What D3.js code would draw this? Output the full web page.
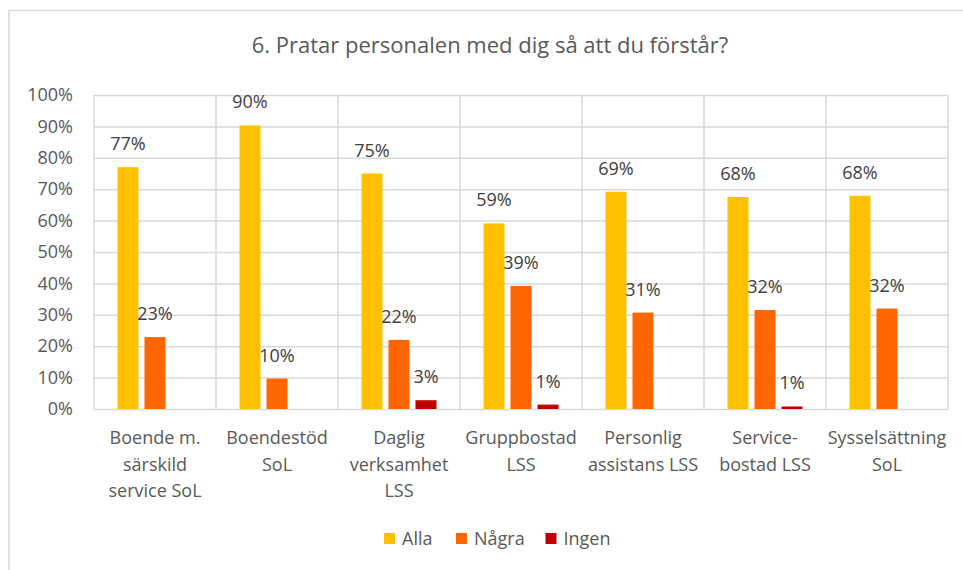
<!DOCTYPE html>
<html>
<head>
<meta charset="utf-8">
<script src="https://cdn.jsdelivr.net/npm/d3@7"></script>
<style>
  body { margin: 0; background: #fff; }
  svg { display: block; font-family: "Open Sans", sans-serif; }
</style>
</head>
<body>
<svg></svg>
<script>
// Data
const categories = [
    ["Boende m.", "särskild", "service SoL"],
    ["Boendestöd", "SoL"],
    ["Daglig", "verksamhet", "LSS"],
    ["Gruppbostad", "LSS"],
    ["Personlig", "assistans LSS"],
    ["Service-", "bostad LSS"],
    ["Sysselsättning", "SoL"]
];
const seriesNames = ["Alla", "Några", "Ingen"];
const alla  = [0.77, 0.903, 0.75, 0.591, 0.692, 0.675, 0.679];
const nagra = [0.229, 0.097, 0.22, 0.392, 0.307, 0.315, 0.32];
const ingen = [null, null, 0.028, 0.014, null, 0.008, null];
const labelsAlla  = ["77%", "90%", "75%", "59%", "69%", "68%", "68%"];
const labelsNagra = ["23%", "10%", "22%", "39%", "31%", "32%", "32%"];
const labelsIngen = [null, null, "3%", "1%", null, "1%", null];
const yTicks = [0, 0.1, 0.2, 0.3, 0.4, 0.5, 0.6, 0.7, 0.8, 0.9, 1.0];
const colors = ["#ffc000", "#ff6600", "#c00000"];

const width = 963;
const height = 570;
const marginTop = 95;
const marginRight = 15;
const marginBottom = 161;
const marginLeft = 94;

const svg = d3.select("svg")
    .attr("width", width)
    .attr("height", height)
    .attr("viewBox", [0, 0, width, height]);

// Outer chart border (only top/left fall inside the picture)
svg.append("rect")
    .attr("x", 9)
    .attr("y", 10.5)
    .attr("width", width + 20)
    .attr("height", height + 20)
    .attr("fill", "none")
    .attr("stroke", "#d9d9d9")
    .attr("stroke-width", 1.5);

const keys = categories.map(c => c.join(" "));
const x = d3.scaleBand(keys, [marginLeft, width - marginRight]);
const xs = d3.scaleBand(seriesNames, [23.5, x.bandwidth() - 23.5]).paddingInner(0.222);
const y = d3.scaleLinear([0, 1], [height - marginBottom, marginTop]);

// Horizontal gridlines + y tick labels
svg.append("g")
    .attr("transform", `translate(${marginLeft},0)`)
    .call(d3.axisLeft(y).tickValues(yTicks).tickFormat(d3.format(".0%")).tickSize(0).tickPadding(21))
    .call(g => g.select(".domain").remove())
    .call(g => g.selectAll(".tick text")
        .attr("font-family", "Open Sans")
        .attr("font-size", 18)
        .attr("fill", "#595959"))
    .call(g => g.selectAll(".tick line")
        .attr("x2", width - marginLeft - marginRight)
        .attr("stroke", "#d9d9d9")
        .attr("stroke-width", 1.5));

// Vertical gridlines at category boundaries
const bounds = keys.map(k => x(k)).concat([width - marginRight]);
svg.append("g")
    .selectAll("line")
    .data(bounds)
    .join("line")
    .attr("x1", d => d)
    .attr("x2", d => d)
    .attr("y1", y(1))
    .attr("y2", y(0))
    .attr("stroke", "#d9d9d9")
    .attr("stroke-width", 1.5);

// Bars
const series = [
    { name: "Alla", values: alla, labels: labelsAlla },
    { name: "Några", values: nagra, labels: labelsNagra },
    { name: "Ingen", values: ingen, labels: labelsIngen }
];

series.forEach((s, si) => {
    const rows = keys.map((k, i) => ({ k, v: s.values[i], label: s.labels[i] }))
        .filter(d => d.v != null);

    svg.append("g")
        .selectAll("rect")
        .data(rows)
        .join("rect")
        .attr("x", d => x(d.k) + xs(s.name))
        .attr("y", d => y(d.v))
        .attr("width", xs.bandwidth())
        .attr("height", d => y(0) - y(d.v))
        .attr("fill", colors[si]);

    svg.append("g")
        .selectAll("text")
        .data(rows)
        .join("text")
        .attr("x", d => x(d.k) + xs(s.name) + xs.bandwidth() / 2)
        .attr("y", d => y(d.v) - 17)
        .attr("text-anchor", "middle")
        .attr("font-size", 18)
        .attr("fill", "#404040")
        .text(d => d.label);
});

// Category labels
const catG = svg.append("g")
    .selectAll("text")
    .data(categories)
    .join("text")
    .attr("x", (d, i) => x(keys[i]) + x.bandwidth() / 2)
    .attr("y", 444)
    .attr("text-anchor", "middle")
    .attr("font-size", 18)
    .attr("fill", "#595959");
catG.selectAll("tspan")
    .data(d => d)
    .join("tspan")
    .attr("x", function () { return this.parentNode.getAttribute("x"); })
    .attr("dy", (d, i) => i === 0 ? 0 : 26.5)
    .text(d => d);

// Title
svg.append("text")
    .attr("x", 490)
    .attr("y", 53)
    .attr("text-anchor", "middle")
    .attr("font-size", 22)
    .attr("fill", "#595959")
    .text("6. Pratar personalen med dig så att du förstår?");

// Legend
const legendX = [384, 456, 545.5];
const legend = svg.append("g")
    .selectAll("g")
    .data(seriesNames)
    .join("g")
    .attr("transform", (d, i) => `translate(${legendX[i]},533)`);
legend.append("rect")
    .attr("width", 11)
    .attr("height", 11)
    .attr("fill", (d, i) => colors[i]);
legend.append("text")
    .attr("x", 18)
    .attr("y", 12)
    .attr("font-size", 18)
    .attr("fill", "#595959")
    .text(d => d);
</script>
</body>
</html>
